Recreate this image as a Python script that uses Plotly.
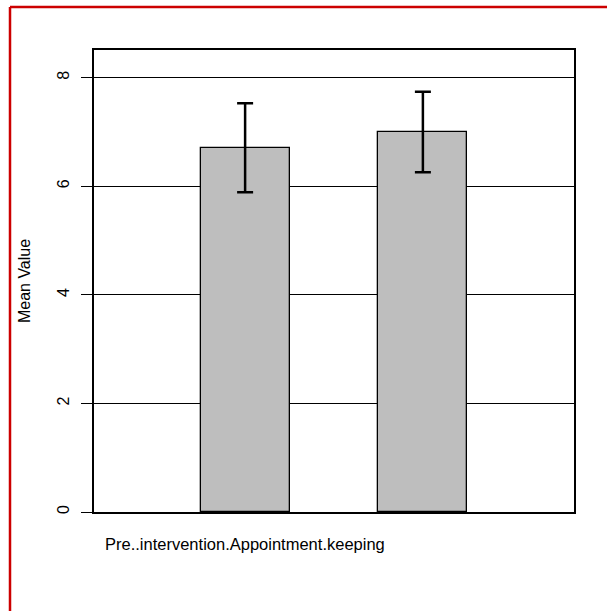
import plotly.graph_objects as go

# Bar summary: means with symmetric error half-widths
categories = ["Pre..intervention.Appointment.keeping", ""]
bar_positions = [1.5, 3.5]
means = [6.71, 7.00]
errors = [0.82, 0.74]
y_ticks = [0, 2, 4, 6, 8]

W, H = 607, 611
L, R, T, B = 94, 33, 50, 99
plot_w = W - L - R
plot_h = H - T - B

fig = go.Figure()
fig.add_trace(go.Bar(
    x=bar_positions,
    y=means,
    width=1.0,
    marker=dict(color="#BEBEBE", line=dict(color="black", width=1.3)),
    error_y=dict(type="data", array=errors, visible=True,
                 color="black", thickness=2.5, width=8),
    showlegend=False,
))

font = dict(family="Liberation Sans, Arial, Helvetica, sans-serif", color="black")

# category label under the first bar
for pos, name in zip(bar_positions, categories):
    if name:
        fig.add_annotation(x=pos, y=-32 / plot_h, xref="x", yref="paper",
                           text=name, showarrow=False,
                           font=dict(size=16.5, **font),
                           xanchor="center", yanchor="middle")

# dark red frame around the figure
fx = (10 - L) / plot_w
fy = (H - B - 7) / plot_h
fig.add_shape(type="line", xref="paper", yref="paper",
              x0=fx, x1=fx, y0=fy, y1=-B / plot_h - 0.1,
              line=dict(color="#CC0000", width=2.5))
fig.add_shape(type="line", xref="paper", yref="paper",
              x0=fx, x1=(W - L) / plot_w + 0.1, y0=fy, y1=fy,
              line=dict(color="#CC0000", width=2.5))

fig.update_layout(
    width=W, height=H,
    margin=dict(l=L, r=R, t=T, b=B, pad=0),
    paper_bgcolor="white", plot_bgcolor="white",
    font=font,
    xaxis=dict(range=[-0.2, 5.2], showticklabels=False, ticks="",
               showgrid=False, zeroline=False,
               showline=True, mirror=True, linecolor="black", linewidth=1.5),
    yaxis=dict(range=[0, 8.51], tickvals=y_ticks,
               ticktext=[str(v) for v in y_ticks],
               tickangle=-90, ticks="outside", ticklen=11, tickwidth=1.3,
               tickcolor="black", tickfont=dict(size=16, **font),
               ticklabelstandoff=6,
               showgrid=True, gridcolor="black", gridwidth=1.2,
               zeroline=False,
               showline=True, mirror=True, linecolor="black", linewidth=1.5,
               title=dict(text="Mean Value", font=dict(size=16, **font),
                          standoff=20)),
    bargap=0,
)

fig.write_html("out.html")
